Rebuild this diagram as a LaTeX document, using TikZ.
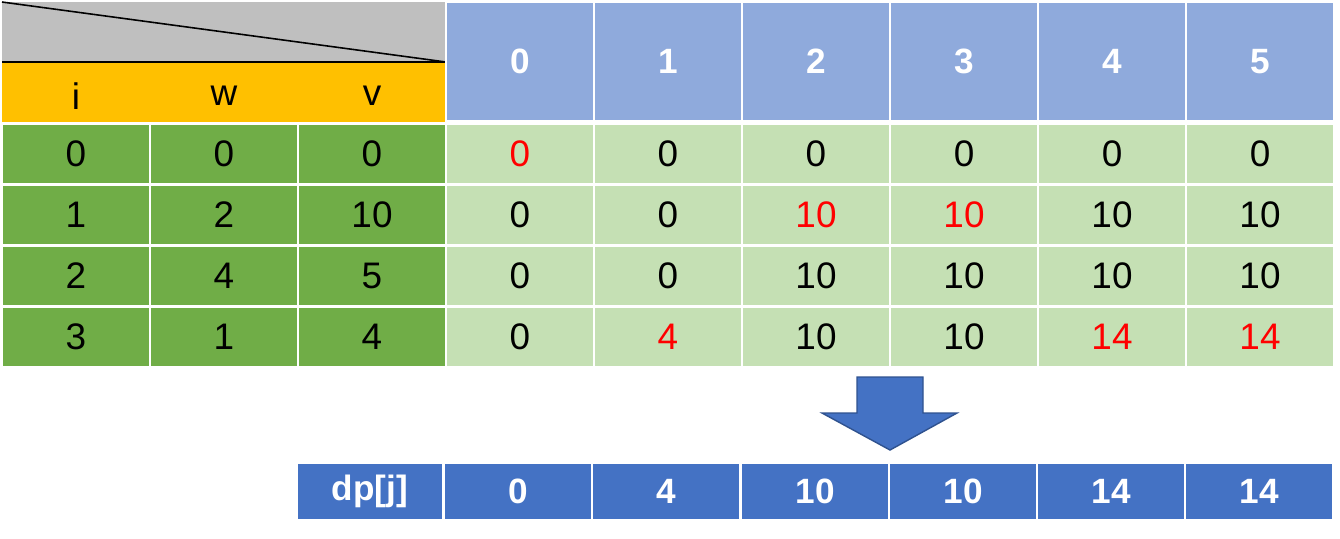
\documentclass[tikz,border=0pt]{standalone}
\usepackage{fontspec}
\setmainfont{Liberation Sans}
\usetikzlibrary{positioning}
\definecolor{keygreen}{HTML}{70AD47}
\definecolor{dpgreen}{HTML}{C5E0B4}
\definecolor{headblue}{HTML}{8FAADC}
\definecolor{resblue}{HTML}{4472C4}
\definecolor{resedge}{HTML}{2F528F}
\definecolor{cornergray}{HTML}{BFBFBF}
\definecolor{keyorange}{HTML}{FFC000}
\tikzset{
        cell/.style={rectangle, draw=white, line width=0.6pt, inner sep=0pt, minimum width=1.48cm, minimum height=0.61cm, font=\fontsize{10.5}{12}\selectfont},
        % Item table (i, w, v)
        cell_key/.style={cell, fill=keygreen},
        % dp table
        cell_dp/.style={cell, fill=dpgreen},
        % Capacity header
        cell_head/.style={cell, fill=headblue, text=white, minimum height=1.19cm, font=\fontsize{10}{12}\selectfont\bfseries},
        % Result row
        cell_res/.style={cell, fill=resblue, text=white, minimum height=0.57cm, font=\fontsize{10}{12}\selectfont\bfseries},
        % Changed values
        hot/.style={text=red}
}
\begin{document}
\begin{tikzpicture}[x=0.01cm, y=-0.01cm]
    \useasboundingbox (0,0) rectangle (1340,538);
    % corner
    \fill[cornergray] (2,2) rectangle (446,62);
    \fill[keyorange] (2,62) rectangle (446,124);
    \draw[line width=0.45pt] (2,2) -- (446,62);
    \draw[line width=0.6pt] (2,62) -- (446,62);
    \node[font=\fontsize{10.5}{12}\selectfont] (lbl_i) at (76,96) {i};
    \node[font=\fontsize{10.5}{12}\selectfont] (lbl_w) at (224,96) {w};
    \node[font=\fontsize{10.5}{12}\selectfont] (lbl_v) at (372,96) {v};
    % items
    \foreach \r/\y/\i/\w/\v in {0/154/0/0/0, 1/215/1/2/10, 2/276/2/4/5, 3/337/3/1/4} {
        \node[cell_key] (i\r) at (76,\y) {\i};
        \node[cell_key] (w\r) at (224,\y) {\w};
        \node[cell_key] (v\r) at (372,\y) {\v};
    }
    % capacities
    \foreach \j/\x in {0/520, 1/668, 2/816, 3/964, 4/1112, 5/1260}
        \node[cell_head] (h\j) at (\x,61.5) {\j};
    % dp values
    \node[cell_dp, hot] (d00) at (520,154) {0};
    \node[cell_dp] (d01) at (668,154) {0};
    \node[cell_dp] (d02) at (816,154) {0};
    \node[cell_dp] (d03) at (964,154) {0};
    \node[cell_dp] (d04) at (1112,154) {0};
    \node[cell_dp] (d05) at (1260,154) {0};
    \node[cell_dp] (d10) at (520,215) {0};
    \node[cell_dp] (d11) at (668,215) {0};
    \node[cell_dp, hot] (d12) at (816,215) {10};
    \node[cell_dp, hot] (d13) at (964,215) {10};
    \node[cell_dp] (d14) at (1112,215) {10};
    \node[cell_dp] (d15) at (1260,215) {10};
    \node[cell_dp] (d20) at (520,276) {0};
    \node[cell_dp] (d21) at (668,276) {0};
    \node[cell_dp] (d22) at (816,276) {10};
    \node[cell_dp] (d23) at (964,276) {10};
    \node[cell_dp] (d24) at (1112,276) {10};
    \node[cell_dp] (d25) at (1260,276) {10};
    \node[cell_dp] (d30) at (520,337) {0};
    \node[cell_dp, hot] (d31) at (668,337) {4};
    \node[cell_dp] (d32) at (816,337) {10};
    \node[cell_dp] (d33) at (964,337) {10};
    \node[cell_dp, hot] (d34) at (1112,337) {14};
    \node[cell_dp, hot] (d35) at (1260,337) {14};
    % arrow
    \filldraw[fill=resblue, draw=resedge, line width=0.4pt] (857,377) -- (923,377) -- (923,413) -- (957,413) -- (890,450) -- (822,413) -- (857,413) -- cycle;
    % result
    \node[cell_res, minimum width=1.46cm] (res) at (370,491.5) {dp[j]};
    \foreach \j/\x/\val in {0/518/0, 1/666/4, 2/815/10, 3/963/10, 4/1111/14, 5/1259/14}
        \node[cell_res] (r\j) at (\x,491.5) {\val};
\end{tikzpicture}
\end{document}
